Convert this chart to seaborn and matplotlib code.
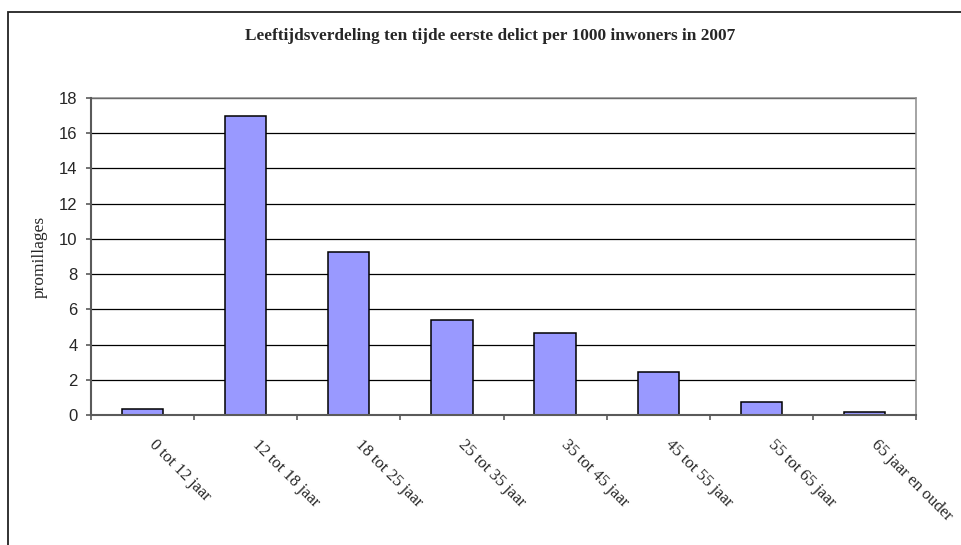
import matplotlib
matplotlib.use("Agg")
import matplotlib.pyplot as plt
import matplotlib.transforms as mtransforms
from matplotlib.patches import Rectangle
import seaborn as sns

# Values
categories = ["0 tot 12 jaar", "12 tot 18 jaar", "18 tot 25 jaar", "25 tot 35 jaar",
              "35 tot 45 jaar", "45 tot 55 jaar", "55 tot 65 jaar", "65 jaar en ouder"]
promillages = [0.36, 17.0, 9.26, 5.4, 4.64, 2.47, 0.76, 0.17]
yticks = list(range(0, 20, 2))

title = "Leeftijdsverdeling ten tijde eerste delict per 1000 inwoners in 2007"

sns.set_style("white")
plt.rcParams["font.family"] = ["Liberation Sans", "DejaVu Sans"]

fig = plt.figure(figsize=(9.61, 5.45), dpi=100)
ax = fig.add_axes([91 / 961, 1 - 415 / 545, 825 / 961, 317 / 545])

sns.barplot(x=categories, y=promillages, color="#9999FF", saturation=1,
            edgecolor="black", linewidth=1.1, width=0.4, ax=ax, zorder=3)

ax.set_xlim(-0.5, len(categories) - 0.5)
ax.set_ylim(0, 18)
ax.set_yticks(yticks)
ax.yaxis.grid(True, color="black", linewidth=0.9)
ax.set_axisbelow(True)

# spines like the old office chart
for side in ["left", "bottom"]:
    ax.spines[side].set_color("#5a5a5a")
    ax.spines[side].set_linewidth(1.5)
    ax.spines[side].set_zorder(4)
for side in ["top", "right"]:
    ax.spines[side].set_color("#8c8c8c")
    ax.spines[side].set_linewidth(1.1)

ax.tick_params(axis="y", direction="out", length=3.6, width=1.2, color="#5a5a5a",
               pad=6, labelsize=12, left=True)
ax.set_xticks(range(len(categories)))
ax.set_xticklabels(categories, rotation=-45, ha="left", va="center",
                   rotation_mode="anchor", fontsize=12, family="Liberation Serif")
ax.tick_params(axis="x", which="major", length=0, pad=19.5)
ax.set_xticks([i - 0.5 for i in range(len(categories) + 1)], minor=True)
ax.tick_params(axis="x", which="minor", direction="out", length=3.6, width=1.2,
               color="#5a5a5a", bottom=True)
shift = mtransforms.ScaledTranslation(0.09, 0, fig.dpi_scale_trans)
for lab in ax.get_xticklabels():
    lab.set_transform(lab.get_transform() + shift)

ax.set_xlabel("")
ax.set_ylabel("promillages", family="Liberation Serif", fontsize=12.5)
ax.yaxis.set_label_coords(-0.053, 0.5)

fig.text(0.51, 1 - 36 / 545, title, ha="center", va="center",
         family="Liberation Serif", fontweight="bold", fontsize=12.4)

# outer chart border (cut off on the right and bottom)
fig.add_artist(Rectangle((8 / 961, -0.1), 1.2, 1.1 - 12 / 545, transform=fig.transFigure,
                         fill=False, edgecolor="#222222", linewidth=1.3))

fig.savefig("out.png", dpi=100)
